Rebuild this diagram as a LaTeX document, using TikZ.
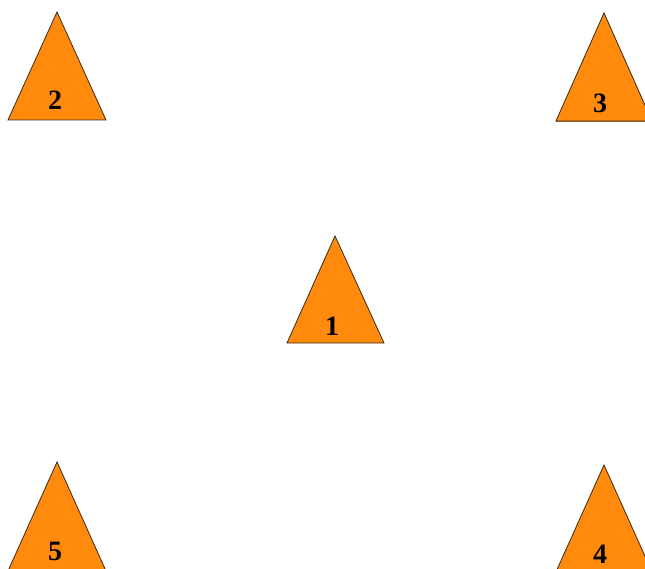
\documentclass[tikz,border=0pt]{standalone}
\usepackage{fontspec}
\setmainfont{Liberation Serif}
\definecolor{tri}{HTML}{FF8A0C}
\definecolor{triedge}{HTML}{3A2A1A}
\definecolor{basebrown}{HTML}{8A5A2A}
\tikzset{
  tribox/.style={fill=tri, draw=triedge, line width=0.8pt, line join=miter},
  trilabel/.style={font=\bfseries\fontsize{28}{28}\selectfont, text=black, inner sep=0pt, anchor=center}
}
\begin{document}
\begin{tikzpicture}[x=1pt,y=-1pt]
\useasboundingbox (0,0) rectangle (645,569);
\begin{scope}
\clip (0,0) rectangle (645,569);
% triangle 2
\draw[tribox] (57,12) -- (106,120) -- (8,120) -- cycle;
\node[trilabel] (l2) at (55,100) {2};
% triangle 3
\draw[tribox] (604,13) -- (652,121) -- (556,121) -- cycle;
\draw[basebrown, line width=1.6pt] (556,121.5) -- (652,121.5);
\node[trilabel] (l3) at (600,103) {3};
% triangle 1
\draw[tribox] (335,236) -- (384,343) -- (287,343) -- cycle;
\node[trilabel] (l1) at (332,326) {1};
% triangle 5
\draw[tribox] (57,462) -- (106,571) -- (8,571) -- cycle;
\node[trilabel] (l5) at (55,551) {5};
% triangle 4
\draw[tribox] (604,465) -- (653,574) -- (555,574) -- cycle;
\node[trilabel] (l4) at (600,554) {4};
\end{scope}
\end{tikzpicture}
\end{document}
